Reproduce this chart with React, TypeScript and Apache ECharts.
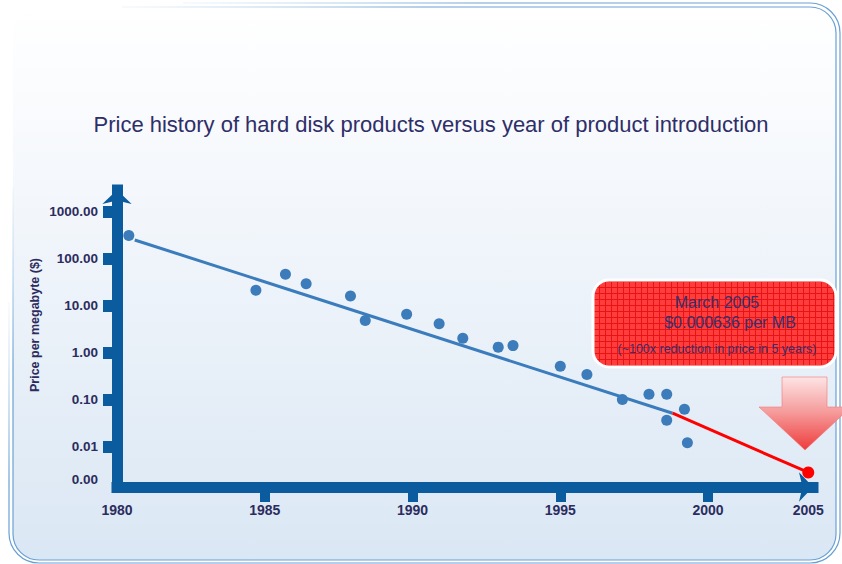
import React, { useEffect, useRef } from "react";
import * as echarts from "echarts";

// ---- data ----
const PRODUCT_YEARS = [1980.4, 1984.7, 1985.7, 1986.4, 1987.9, 1988.4, 1989.8, 1990.9, 1991.7, 1992.9, 1993.4, 1995.0, 1995.9, 1997.1, 1998.0, 1998.6, 1998.6, 1999.2, 1999.3];
const PRODUCT_PRICES = [310, 21, 46, 29, 16, 4.8, 6.5, 4.1, 2.0, 1.3, 1.4, 0.51, 0.34, 0.10, 0.13, 0.13, 0.036, 0.062, 0.012];

const TREND_YEARS = [1980.6, 1998.8];
const TREND_PRICES = [248, 0.051];
const PROJECTION_YEARS = [1998.8, 2005];
const PROJECTION_PRICES = [0.051, 0.0028];

const X_TICK_YEARS = [1980, 1985, 1990, 1995, 2000, 2005];
const X_TICK_MARK_YEARS = [1985, 1990, 1995, 2000];
const Y_TICK_VALUES = [1000, 100, 10, 1, 0.1, 0.01];
const Y_LABEL_VALUES = [1000, 100, 10, 1, 0.1, 0.01, 0.002];

const TITLE = "Price history of hard disk products versus year of product introduction";
const Y_NAME = "Price per megabyte ($)";
const CALLOUT_LINES = ["March 2005", "$0.000636 per MB", "(~100x reduction in price in 5 years)"];

// The drawn x axis is compressed after 2000 (2000→2005 is shorter than a 5-year step)
const COMPRESS = 0.678;
const axisX = (y: number) => (y <= 2000 ? y : 2000 + (y - 2000) * COMPRESS);
const invX = (v: number) => (v <= 2000 ? v : 2000 + (v - 2000) / COMPRESS);

const AXIS_COLOR = "#0a5c9e";
const TEXT_COLOR = "#2c2c5e";
const DOT_COLOR = "#3d7cba";
const FONT = "'Liberation Sans', Arial, sans-serif";
const FRAME_COLOR = "rgba(105,160,212,1)";

function makeGridPattern(): any {
  const c = document.createElement("canvas");
  c.width = 6;
  c.height = 6;
  const ctx = c.getContext("2d");
  if (!ctx) return "#f53434";
  ctx.fillStyle = "#ff3d3d";
  ctx.fillRect(0, 0, 6, 6);
  ctx.fillStyle = "#e61414";
  ctx.fillRect(5, 0, 1, 6);
  ctx.fillRect(0, 5, 6, 1);
  return { image: c, repeat: "repeat" };
}

// decorative slide frame made of lines and corner arcs
function frame(x0: number, y0: number, x1: number, y1: number, r: number, topStart: number, leftStart: number) {
  const st = { stroke: FRAME_COLOR, lineWidth: 1.2, fill: "none" };
  const fadeH = {
    type: "linear", global: true, x: topStart, y: 0, x2: topStart + 300, y2: 0,
    colorStops: [
      { offset: 0, color: "rgba(150,195,230,0.15)" },
      { offset: 1, color: FRAME_COLOR },
    ],
  };
  const fadeV = {
    type: "linear", global: true, x: 0, y: leftStart, x2: 0, y2: leftStart + 180,
    colorStops: [
      { offset: 0, color: "rgba(150,195,230,0.1)" },
      { offset: 1, color: FRAME_COLOR },
    ],
  };
  return [
    { type: "line", z: -90, silent: true, shape: { x1: topStart, y1: y0, x2: x1 - r, y2: y0 }, style: { ...st, stroke: fadeH } },
    { type: "arc", z: -90, silent: true, shape: { cx: x1 - r, cy: y0 + r, r, startAngle: -Math.PI / 2, endAngle: 0, clockwise: true }, style: st },
    { type: "line", z: -90, silent: true, shape: { x1: x1, y1: y0 + r, x2: x1, y2: y1 - r }, style: st },
    { type: "arc", z: -90, silent: true, shape: { cx: x1 - r, cy: y1 - r, r, startAngle: 0, endAngle: Math.PI / 2, clockwise: true }, style: st },
    { type: "line", z: -90, silent: true, shape: { x1: x0 + r, y1: y1, x2: x1 - r, y2: y1 }, style: st },
    { type: "arc", z: -90, silent: true, shape: { cx: x0 + r, cy: y1 - r, r, startAngle: Math.PI / 2, endAngle: Math.PI, clockwise: true }, style: st },
    { type: "line", z: -90, silent: true, shape: { x1: x0, y1: leftStart, x2: x0, y2: y1 - r }, style: { ...st, stroke: fadeV } },
  ];
}

export default function App() {
  const ref = useRef<HTMLDivElement>(null);

  useEffect(() => {
    if (!ref.current) return;
    const chart = echarts.init(ref.current, null, { renderer: "svg" });

    const products = PRODUCT_YEARS.map((y, i) => [axisX(y), PRODUCT_PRICES[i]]);
    const trend = TREND_YEARS.map((y, i) => [axisX(y), TREND_PRICES[i]]);
    const projection = PROJECTION_YEARS.map((y, i) => ({
      value: [axisX(y), PROJECTION_PRICES[i]],
      symbol: i === PROJECTION_YEARS.length - 1 ? "circle" : "none",
      symbolSize: 12,
    }));

    const option: any = {
      animation: false,
      title: {
        text: TITLE,
        left: 426,
        top: 108,
        textAlign: "center",
        textStyle: { fontFamily: FONT, fontSize: 22, fontWeight: "normal", color: "#2e2e68" },
      },
      grid: { left: 117, right: 29, top: 190, bottom: 77 },
      xAxis: {
        type: "value",
        min: 1980,
        max: 2003.55,
        axisLine: {
          onZero: false,
          lineStyle: { color: AXIS_COLOR, width: 11, cap: "square" },
          symbol: ["none", "arrow"],
          symbolSize: [22, 14],
        },
        axisTick: {
          show: true,
          length: 15,
          customValues: X_TICK_MARK_YEARS.map(axisX),
          lineStyle: { color: AXIS_COLOR, width: 10 },
        },
        axisLabel: {
          customValues: X_TICK_YEARS.map(axisX),
          formatter: (v: number) => String(Math.round(invX(v))),
          margin: 16,
          fontFamily: FONT,
          fontSize: 14,
          fontWeight: "bold",
          color: TEXT_COLOR,
        },
        splitLine: { show: false },
      },
      yAxis: {
        type: "log",
        logBase: 10,
        min: 0.001375,
        max: 2865,
        axisLine: {
          show: true,
          onZero: false,
          lineStyle: { color: AXIS_COLOR, width: 11, cap: "square" },
          symbol: ["none", "arrow"],
          symbolSize: [22, 14],
        },
        axisTick: {
          show: true,
          length: 14,
          customValues: Y_TICK_VALUES,
          lineStyle: { color: AXIS_COLOR, width: 12 },
        },
        axisLabel: {
          customValues: Y_LABEL_VALUES,
          formatter: (v: number) => v.toFixed(2),
          margin: 19,
          fontFamily: FONT,
          fontSize: 13.5,
          fontWeight: "bold",
          color: TEXT_COLOR,
        },
        splitLine: { show: false },
      },
      series: [
        {
          name: "Trend",
          type: "line",
          data: trend,
          showSymbol: false,
          lineStyle: { color: "#3b7cbc", width: 3 },
          z: 3,
        },
        {
          name: "Projection",
          type: "line",
          data: projection,
          showSymbol: true,
          itemStyle: { color: "#ff0000" },
          lineStyle: { color: "#ff0000", width: 3 },
          z: 4,
        },
        {
          name: "Products",
          type: "scatter",
          data: products,
          symbolSize: 11,
          itemStyle: { color: DOT_COLOR, opacity: 1 },
          z: 5,
        },
      ],
      graphic: [
        {
          type: "rect",
          z: -100,
          silent: true,
          shape: { x: 13, y: 7, width: 823, height: 553, r: 26 },
          style: {
            fill: {
              type: "linear", x: 0, y: 0, x2: 0, y2: 1,
              colorStops: [
                { offset: 0, color: "#ffffff" },
                { offset: 0.3, color: "#f5f8fc" },
                { offset: 1, color: "#dae7f4" },
              ],
            },
            stroke: "none",
          },
        },
        ...frame(13, 7, 836, 560, 26, 122, 187),
        ...frame(9, 3, 840, 563, 30, 183, 302),
        {
          type: "text",
          z: 10,
          x: 35,
          y: 325,
          rotation: Math.PI / 2,
          style: {
            text: Y_NAME,
            fontFamily: FONT,
            fontSize: 12.5,
            fontWeight: "bold",
            fill: TEXT_COLOR,
            align: "center",
            verticalAlign: "middle",
          },
        },
        {
          type: "rect",
          z: 50,
          shape: { x: 593, y: 280, width: 243, height: 87, r: 16 },
          style: { fill: makeGridPattern(), stroke: "#ffffff", lineWidth: 3 },
        },
        {
          type: "text",
          z: 51,
          x: 717,
          y: 302,
          style: { text: CALLOUT_LINES[0], fontFamily: FONT, fontSize: 16, fill: "#3a2f6a", align: "center", verticalAlign: "middle" },
        },
        {
          type: "text",
          z: 51,
          x: 730,
          y: 322,
          style: { text: CALLOUT_LINES[1], fontFamily: FONT, fontSize: 16, fill: "#3a2f6a", align: "center", verticalAlign: "middle" },
        },
        {
          type: "text",
          z: 51,
          x: 717,
          y: 349,
          style: { text: CALLOUT_LINES[2], fontFamily: FONT, fontSize: 12.5, fill: "#3a2f6a", align: "center", verticalAlign: "middle" },
        },
        {
          type: "polygon",
          z: 50,
          shape: {
            points: [
              [782, 377], [827, 377], [827, 407], [851, 407], [805, 450], [759, 407], [782, 407],
            ],
          },
          style: {
            fill: {
              type: "linear", x: 0, y: 0, x2: 0, y2: 1,
              colorStops: [
                { offset: 0, color: "#fde4e4" },
                { offset: 0.45, color: "#f6a0a0" },
                { offset: 1, color: "#ef3c3c" },
              ],
            },
            stroke: "rgba(240,120,120,0.6)",
            lineWidth: 1,
          },
        },
      ],
    };

    chart.setOption(option);
    return () => chart.dispose();
  }, []);

  return <div ref={ref} style={{ width: 842, height: 564, position: "absolute", left: 0, top: 0 }} />;
}
